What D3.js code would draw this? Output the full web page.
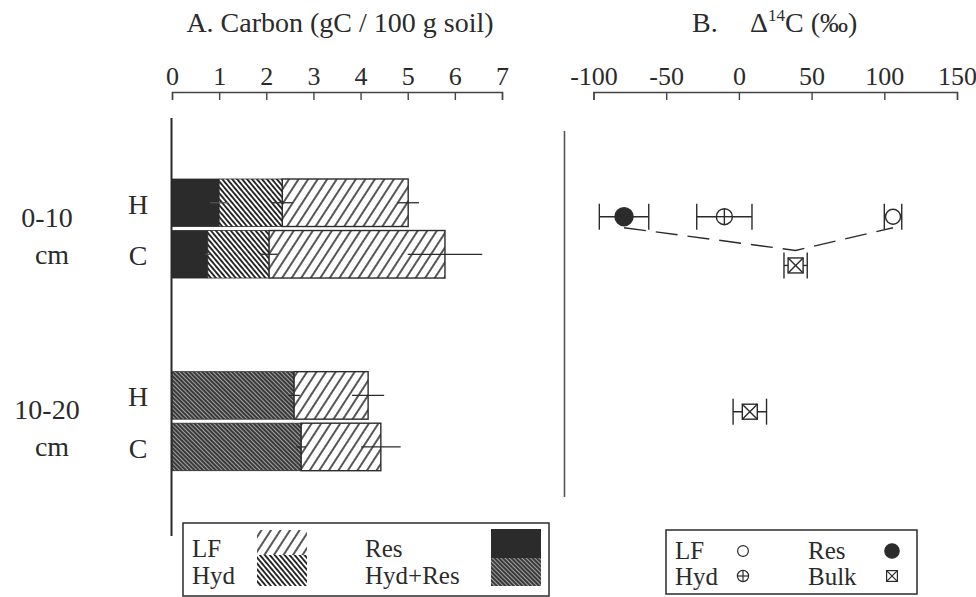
<!DOCTYPE html>
<html>
<head>
<meta charset="utf-8">
<script src="https://cdn.jsdelivr.net/npm/d3@7"></script>
<style>
  body { margin: 0; background: #fff; }
  svg { display: block; }
  text { font-family: "Liberation Serif", "Times New Roman", serif; fill: #2b2b2b; }
</style>
</head>
<body>
<svg id="chart" width="976" height="597"></svg>
<script>
// ---- panel A: carbon by fraction (gC / 100 g soil) ----
const rowDepth = ["0-10", "0-10", "10-20", "10-20"];
const rowSite = ["H", "C", "H", "C"];
const resCarbon = [1.00, 0.76, 0, 0];
const hydCarbon = [1.34, 1.30, 0, 0];
const hydResCarbon = [0, 0, 2.59, 2.74];
const lfCarbon = [2.67, 3.73, 1.57, 1.69];
const resErr = [0.19, 0.05, 0, 0];
const hydErr = [0.22, 0.18, 0, 0];
const hydResErr = [0, 0, 0.12, 0.10];
const lfErr = [0.23, 0.79, 0.34, 0.42];
const carbonTicks = [0, 1, 2, 3, 4, 5, 6, 7];

// ---- panel B: delta 14C (permil) ----
const d14Frac = ["Res", "Hyd", "LF", "Bulk", "Bulk"];
const d14Value = [-79, -10, 106, 39, 7.5];
const d14Err = [17, 19, 6, 8, 11.5];
const d14Row = [1, 1, 1, 2, 5];   // slot from the top of panel B
const d14Ticks = [-100, -50, 0, 50, 100, 150];

const depths = ["0-10", "10-20"];
const sites = ["H", "C"];
const keys = ["res", "hyd", "hydRes", "lf"];

const ink = "#2b2b2b";
const svg = d3.select("#chart");

// patterns
const defs = svg.append("defs");
function hatch(id, gap, angle, bg, fg, w) {
  let p = defs.append("pattern")
    .attr("id", id)
    .attr("patternUnits", "userSpaceOnUse")
    .attr("width", gap).attr("height", 10)
    .attr("patternTransform", "rotate(" + angle + ")");
  p.append("rect").attr("width", gap).attr("height", 10).attr("fill", bg);
  p.append("line").attr("x1", gap / 2).attr("x2", gap / 2).attr("y1", 0).attr("y2", 10)
    .attr("stroke", fg).attr("stroke-width", w);
}
hatch("pLF", 8, 33, "#fff", "#1e1e1e", 1.5);
hatch("pHyd", 3.8, -40, "#fff", "#1a1a1a", 1.8);
hatch("pHydRes", 3, -45, "#3a3a3a", "#a0a0a0", 1);

const fills = { res: ink, hyd: "url(#pHyd)", hydRes: "url(#pHydRes)", lf: "url(#pLF)" };
const errs = { res: resErr, hyd: hydErr, hydRes: hydResErr, lf: lfErr };

let table = rowDepth.map(function(d, i) {
  return { depth: d, site: rowSite[i], res: resCarbon[i], hyd: hydCarbon[i],
           hydRes: hydResCarbon[i], lf: lfCarbon[i], i: i };
});

// scales
let x = d3.scaleLinear().domain([0, 7]).range([172, 502]);
let yGroup = d3.scaleBand().domain(depths).range([179, 470.7]).paddingInner(0.486);
let ySite = d3.scaleBand().domain(sites).range([0, yGroup.bandwidth()]).paddingInner(0.078);
let rowY = function(d) { return yGroup(d.depth) + ySite(d.site); };

let xB = d3.scaleLinear().domain([-100, 150]).range([593.5, 957]);
let yB = d3.scaleLinear().domain([1, 5]).range([216.7, 411.7]);

// titles
svg.append("text").attr("x", 340).attr("y", 32).attr("text-anchor", "middle")
  .style("font-size", "28px").text("A. Carbon (gC / 100 g soil)");
svg.append("text").attr("x", 692).attr("y", 32).style("font-size", "28px").text("B.");
let tB = svg.append("text").attr("x", 750).attr("y", 32).style("font-size", "28px");
tB.append("tspan").text("\u0394");
tB.append("tspan").attr("dy", -11).style("font-size", "17px").text("14");
tB.append("tspan").attr("dy", 11).text("C (\u2030)");

// axes
function styleAxis(g) {
  g.selectAll("path, line").attr("stroke", "#444").attr("stroke-width", 1.4);
  g.selectAll("text").style("font-size", "26px").attr("fill", ink)
    .style("font-family", "'Liberation Serif', 'Times New Roman', serif");
  g.attr("font-family", null);
}
let plain = function(d) { return String(d); };
svg.append("g").attr("transform", "translate(0,92)")
  .call(d3.axisTop(x).tickValues(carbonTicks).tickFormat(plain).tickSizeInner(-8).tickSizeOuter(-8).tickPadding(7))
  .call(styleAxis);
svg.append("g").attr("transform", "translate(0,92)")
  .call(d3.axisTop(xB).tickValues(d14Ticks).tickFormat(plain).tickSizeInner(-8).tickSizeOuter(-8).tickPadding(7))
  .call(styleAxis);

// stacked bars
let series = d3.stack().keys(keys)(table);
let bars = svg.append("g");
series.forEach(function(s) {
  bars.selectAll(null)
    .data(s.filter(function(d) { return d[1] - d[0] > 0; }))
    .enter()
    .append("rect")
    .attr("x", function(d) { return x(d[0]); })
    .attr("y", function(d) { return rowY(d.data); })
    .attr("width", function(d) { return x(d[1]) - x(d[0]); })
    .attr("height", ySite.bandwidth())
    .attr("fill", fills[s.key])
    .attr("stroke", ink)
    .attr("stroke-width", s.key === "lf" ? 1.4 : 0.8);
});

// error bars (horizontal, no caps) at the end of each segment
series.forEach(function(s) {
  bars.selectAll(null)
    .data(s.filter(function(d) { return d[1] - d[0] > 0; }))
    .enter()
    .append("line")
    .attr("x1", function(d) { return x(d[1] - errs[s.key][d.data.i]); })
    .attr("x2", function(d) { return x(d[1] + errs[s.key][d.data.i]); })
    .attr("y1", function(d) { return rowY(d.data) + ySite.bandwidth() / 2; })
    .attr("y2", function(d) { return rowY(d.data) + ySite.bandwidth() / 2; })
    .attr("stroke", s.key === "res" ? "#555" : ink)
    .attr("stroke-width", 1.3);
});

// left axis line of panel A
svg.append("line").attr("x1", 171.5).attr("x2", 171.5).attr("y1", 118).attr("y2", 536)
  .attr("stroke", ink).attr("stroke-width", 2);

// site labels
svg.selectAll(".siteLabel")
  .data(table)
  .enter()
  .append("text")
  .attr("class", "siteLabel")
  .attr("x", 138)
  .attr("y", function(d) { return rowY(d) + ySite.bandwidth() / 2 + 11; })
  .attr("text-anchor", "middle")
  .style("font-size", "28px")
  .text(function(d) { return d.site; });

// depth labels
let depthLabel = svg.selectAll(".depthLabel")
  .data(depths)
  .enter()
  .append("text")
  .attr("class", "depthLabel")
  .attr("text-anchor", "middle")
  .style("font-size", "28px");
depthLabel.append("tspan")
  .attr("x", 47)
  .attr("y", function(d) { return yGroup(d) + yGroup.bandwidth() / 2 - 2; })
  .text(function(d) { return d; });
depthLabel.append("tspan")
  .attr("x", 52)
  .attr("y", function(d) { return yGroup(d) + yGroup.bandwidth() / 2 + 35; })
  .text("cm");

// panel B
svg.append("line").attr("x1", 564.5).attr("x2", 564.5).attr("y1", 131).attr("y2", 497)
  .attr("stroke", "#555").attr("stroke-width", 1.6);

let pts = d14Frac.map(function(f, i) {
  return { frac: f, v: d14Value[i], e: d14Err[i], row: d14Row[i] };
});

// mixing line Res -> Bulk (0-10) -> LF
let mix = [pts[0], pts[3], pts[2]];
svg.append("path")
  .attr("d", d3.line()
    .x(function(d) { return xB(d.v); })
    .y(function(d) { return d.frac === "Bulk" ? yB(d.row) - 15 : yB(d.row) + 11; })(mix))
  .attr("fill", "none")
  .attr("stroke", ink)
  .attr("stroke-width", 1.4)
  .attr("stroke-dasharray", "22,10");

let pg = svg.append("g").attr("stroke", ink).attr("stroke-width", 1.4);
let eb = pg.selectAll(".eb").data(pts).enter().append("g").attr("class", "eb");
eb.append("line")
  .attr("x1", function(d) { return xB(d.v - d.e); })
  .attr("x2", function(d) { return xB(d.v + d.e); })
  .attr("y1", function(d) { return yB(d.row); })
  .attr("y2", function(d) { return yB(d.row); });
[-1, 1].forEach(function(side) {
  eb.append("line")
    .attr("x1", function(d) { return xB(d.v + side * d.e); })
    .attr("x2", function(d) { return xB(d.v + side * d.e); })
    .attr("y1", function(d) { return yB(d.row) - 13; })
    .attr("y2", function(d) { return yB(d.row) + 13; });
});

function marker(g, kind, cx, cy, s) {
  if (kind === "Res") {
    g.append("circle").attr("cx", cx).attr("cy", cy).attr("r", 9 * s).attr("fill", ink);
  } else if (kind === "LF") {
    g.append("circle").attr("cx", cx).attr("cy", cy).attr("r", 7.5 * s).attr("fill", "#fff");
  } else if (kind === "Hyd") {
    g.append("circle").attr("cx", cx).attr("cy", cy).attr("r", 8 * s).attr("fill", "#fff");
    g.append("line").attr("x1", cx - 8 * s).attr("x2", cx + 8 * s).attr("y1", cy).attr("y2", cy);
    g.append("line").attr("x1", cx).attr("x2", cx).attr("y1", cy - 8 * s).attr("y2", cy + 8 * s);
  } else {
    let h = 7.5 * s;
    g.append("rect").attr("x", cx - h).attr("y", cy - h).attr("width", 2 * h).attr("height", 2 * h).attr("fill", "#fff");
    g.append("line").attr("x1", cx - h).attr("x2", cx + h).attr("y1", cy - h).attr("y2", cy + h);
    g.append("line").attr("x1", cx - h).attr("x2", cx + h).attr("y1", cy + h).attr("y2", cy - h);
  }
}
pts.forEach(function(d) { marker(pg, d.frac, xB(d.v), yB(d.row), 1); });

// legend A
let legA = svg.append("g");
legA.append("rect").attr("x", 183).attr("y", 523).attr("width", 366).attr("height", 73)
  .attr("fill", "#fff").attr("stroke", ink).attr("stroke-width", 1.5);
[["LF", 192, 557], ["Hyd", 192, 584], ["Res", 365, 557], ["Hyd+Res", 365, 584]].forEach(function(t) {
  legA.append("text").attr("x", t[1]).attr("y", t[2]).style("font-size", "25px").text(t[0]);
});
legA.append("rect").attr("x", 257).attr("y", 530).attr("width", 50).attr("height", 25).attr("fill", fills.lf);
legA.append("rect").attr("x", 257).attr("y", 555).attr("width", 50).attr("height", 31).attr("fill", fills.hyd);
legA.append("rect").attr("x", 491).attr("y", 529).attr("width", 50).attr("height", 29).attr("fill", fills.res);
legA.append("rect").attr("x", 491).attr("y", 558).attr("width", 50).attr("height", 28).attr("fill", fills.hydRes);

// legend B
let legB = svg.append("g");
legB.append("rect").attr("x", 666).attr("y", 530).attr("width", 251).attr("height", 64)
  .attr("fill", "#fff").attr("stroke", ink).attr("stroke-width", 1.5);
[["LF", 675, 559], ["Hyd", 675, 585], ["Res", 808, 559], ["Bulk", 808, 585]].forEach(function(t) {
  legB.append("text").attr("x", t[1]).attr("y", t[2]).style("font-size", "25px").text(t[0]);
});
let mk = legB.append("g").attr("stroke", ink).attr("stroke-width", 1.2);
marker(mk, "LF", 743, 551, 0.72);
marker(mk, "Hyd", 743, 576, 0.7);
marker(mk, "Res", 892, 551, 0.8);
marker(mk, "Bulk", 892, 576, 0.72);
</script>
</body>
</html>
